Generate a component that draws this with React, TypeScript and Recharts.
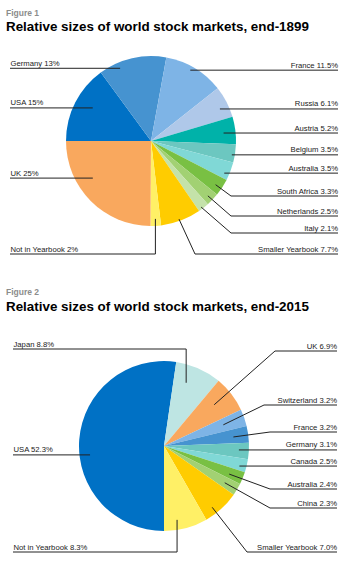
import React from 'react';
import { PieChart, Pie, Cell } from 'recharts';

// ---------- Data: end-1899 ----------
const markets1899 = ['USA', 'Germany', 'France', 'Russia', 'Austria', 'Belgium', 'Australia', 'South Africa', 'Netherlands', 'Italy', 'Smaller Yearbook', 'Not in Yearbook', 'UK'];
const shares1899 = [15, 13, 11.5, 6.1, 5.2, 3.5, 3.5, 3.3, 2.5, 2.1, 7.7, 2, 25];
const shareLabels1899 = ['15%', '13%', '11.5%', '6.1%', '5.2%', '3.5%', '3.5%', '3.3%', '2.5%', '2.1%', '7.7%', '2%', '25%'];
const colors1899 = ['#0071C5', '#4693D0', '#7EB4E6', '#AFC8E9', '#00B2A9', '#6CC7C0', '#80D8D6', '#79C043', '#A2D173', '#C4E2A9', '#FFCC00', '#FFF066', '#F9A85E'];

// ---------- Data: end-2015 ----------
const markets2015 = ['USA', 'Japan', 'UK', 'Switzerland', 'France', 'Germany', 'Canada', 'Australia', 'China', 'Smaller Yearbook', 'Not in Yearbook'];
const shares2015 = [52.3, 8.8, 6.9, 3.2, 3.2, 3.1, 2.5, 2.4, 2.3, 7.0, 8.3];
const shareLabels2015 = ['52.3%', '8.8%', '6.9%', '3.2%', '3.2%', '3.1%', '2.5%', '2.4%', '2.3%', '7.0%', '8.3%'];
const colors2015 = ['#0071C5', '#BEE5E3', '#F9A85E', '#7EB4E6', '#4693D0', '#6CC7C0', '#80D8D6', '#79C043', '#A2D173', '#FFCC00', '#FFF066'];

// ---------- Label layout (leader-line geometry, not data) ----------
type LabelLayout = { side: 'L' | 'R'; r: number; nudge: number; rowDy: number | null; elbowX: number | null };

const layout1899: Record<string, LabelLayout> = {
  USA: { side: 'L', r: 67, nudge: -2.7, rowDy: null, elbowX: null },
  Germany: { side: 'L', r: 79, nudge: 10.1, rowDy: null, elbowX: null },
  France: { side: 'R', r: 81, nudge: 2, rowDy: null, elbowX: null },
  Russia: { side: 'R', r: 76, nudge: -2.5, rowDy: null, elbowX: null },
  Austria: { side: 'R', r: 73, nudge: -0.9, rowDy: null, elbowX: null },
  Belgium: { side: 'R', r: 82, nudge: -1.3, rowDy: null, elbowX: null },
  Australia: { side: 'R', r: 80, nudge: -2.7, rowDy: null, elbowX: null },
  'South Africa': { side: 'R', r: 78, nudge: -0.9, rowDy: 55, elbowX: 231 },
  Netherlands: { side: 'R', r: 79, nudge: -0.4, rowDy: 75, elbowX: 231 },
  Italy: { side: 'R', r: 83, nudge: -1, rowDy: 92, elbowX: 231 },
  'Smaller Yearbook': { side: 'R', r: 83, nudge: -0.9, rowDy: 113, elbowX: 195 },
  'Not in Yearbook': { side: 'L', r: 78, nudge: 0, rowDy: 113, elbowX: null },
  UK: { side: 'L', r: 69, nudge: -12.3, rowDy: null, elbowX: null },
};

const layout2015: Record<string, LabelLayout> = {
  USA: { side: 'L', r: 74.5, nudge: 11, rowDy: null, elbowX: null },
  Japan: { side: 'L', r: 67, nudge: 4.8, rowDy: -97, elbowX: null },
  UK: { side: 'R', r: 65, nudge: 1.8, rowDy: -95, elbowX: 275 },
  Switzerland: { side: 'R', r: 63, nudge: 0.2, rowDy: -41, elbowX: 264 },
  France: { side: 'R', r: 70, nudge: -0.5, rowDy: -14, elbowX: 270 },
  Germany: { side: 'R', r: 75, nudge: 0.4, rowDy: null, elbowX: null },
  Canada: { side: 'R', r: 78, nudge: -1.4, rowDy: null, elbowX: null },
  Australia: { side: 'R', r: 71, nudge: -1, rowDy: 43, elbowX: 270 },
  China: { side: 'R', r: 71, nudge: -0.4, rowDy: 62, elbowX: 270 },
  'Smaller Yearbook': { side: 'R', r: 78, nudge: -4.3, rowDy: 106, elbowX: 247 },
  'Not in Yearbook': { side: 'L', r: 75, nudge: -4.9, rowDy: 106, elbowX: null },
};

const FONT = '"Liberation Sans", Arial, Helvetica, sans-serif';
const RAD = Math.PI / 180;
const NO_MARGIN = { top: 0, right: 0, bottom: 0, left: 0 };

function makeLabel(layout: Record<string, LabelLayout>, leftX: number, rightX: number) {
  return (props: any) => {
    const name: string = props.payload?.name ?? props.name;
    const lab: string = props.payload?.label ?? '';
    const L = layout[name];
    if (!L) return null;
    const cx = Number(props.cx);
    const cy = Number(props.cy);
    const ang = (Number(props.midAngle) + L.nudge) * RAD;
    const ax = cx + L.r * Math.cos(ang);
    const ay = cy - L.r * Math.sin(ang);
    const rowY = L.rowDy === null ? ay : cy + L.rowDy;
    const text = `${name} ${lab}`;
    let pts: string;
    let tx: number;
    let anchor: 'start' | 'end';
    if (L.side === 'L') {
      pts = `${ax},${ay} ${ax},${rowY} ${leftX},${rowY}`;
      tx = leftX + 0.5;
      anchor = 'start';
    } else {
      const ex = L.elbowX === null ? ax : L.elbowX;
      pts = `${ax},${ay} ${ex},${rowY} ${rightX},${rowY}`;
      tx = rightX;
      anchor = 'end';
    }
    return (
      <g key={`lab-${name}`}>
        <polyline points={pts} fill="none" stroke="#222" strokeWidth={1} />
        <text x={tx} y={rowY - 2.5} textAnchor={anchor} fontFamily={FONT} fontSize={7.7} fill="#1a1a1a">
          {text}
        </text>
      </g>
    );
  };
}

const data1899 = markets1899.map((name, i) => ({ name, value: shares1899[i], label: shareLabels1899[i] }));
const data2015 = markets2015.map((name, i) => ({ name, value: shares2015[i], label: shareLabels2015[i] }));

export default function App() {
  return (
    <div style={{ position: 'absolute', left: 0, top: 0, width: 356, height: 562, background: '#fff', overflow: 'hidden' }}>
      <div style={{ position: 'absolute', left: 0, top: 0 }}>
        <PieChart width={356} height={280} margin={NO_MARGIN}>
          <Pie
            data={data1899}
            dataKey="value"
            nameKey="name"
            cx={151}
            cy={141}
            outerRadius={85}
            startAngle={180}
            endAngle={-180}
            stroke="none"
            isAnimationActive={false}
            labelLine={false}
            label={makeLabel(layout1899, 10, 338)}
          >
            {data1899.map((d, i) => (
              <Cell key={d.name} fill={colors1899[i]} />
            ))}
          </Pie>
        </PieChart>
      </div>
      <div style={{ position: 'absolute', left: 0, top: 280 }}>
        <PieChart width={356} height={282} margin={NO_MARGIN}>
          <Pie
            data={data2015}
            dataKey="value"
            nameKey="name"
            cx={164}
            cy={166}
            outerRadius={85}
            startAngle={270}
            endAngle={-90}
            stroke="none"
            isAnimationActive={false}
            labelLine={false}
            label={makeLabel(layout2015, 13, 337)}
          >
            {data2015.map((d, i) => (
              <Cell key={d.name} fill={colors2015[i]} />
            ))}
          </Pie>
        </PieChart>
      </div>
      <svg width={356} height={562} style={{ position: 'absolute', left: 0, top: 0, pointerEvents: 'none' }}>
        <text x={6} y={15.5} fontFamily={FONT} fontSize={8.5} fontWeight="bold" fill="#8c8c8c">Figure 1</text>
        <text x={6} y={31} fontFamily={FONT} fontSize={13.4} fontWeight="bold" fill="#000">Relative sizes of world stock markets, end-1899</text>
        <text x={6} y={294.5} fontFamily={FONT} fontSize={8.5} fontWeight="bold" fill="#8c8c8c">Figure 2</text>
        <text x={6} y={310.5} fontFamily={FONT} fontSize={13.4} fontWeight="bold" fill="#000">Relative sizes of world stock markets, end-2015</text>
      </svg>
    </div>
  );
}
